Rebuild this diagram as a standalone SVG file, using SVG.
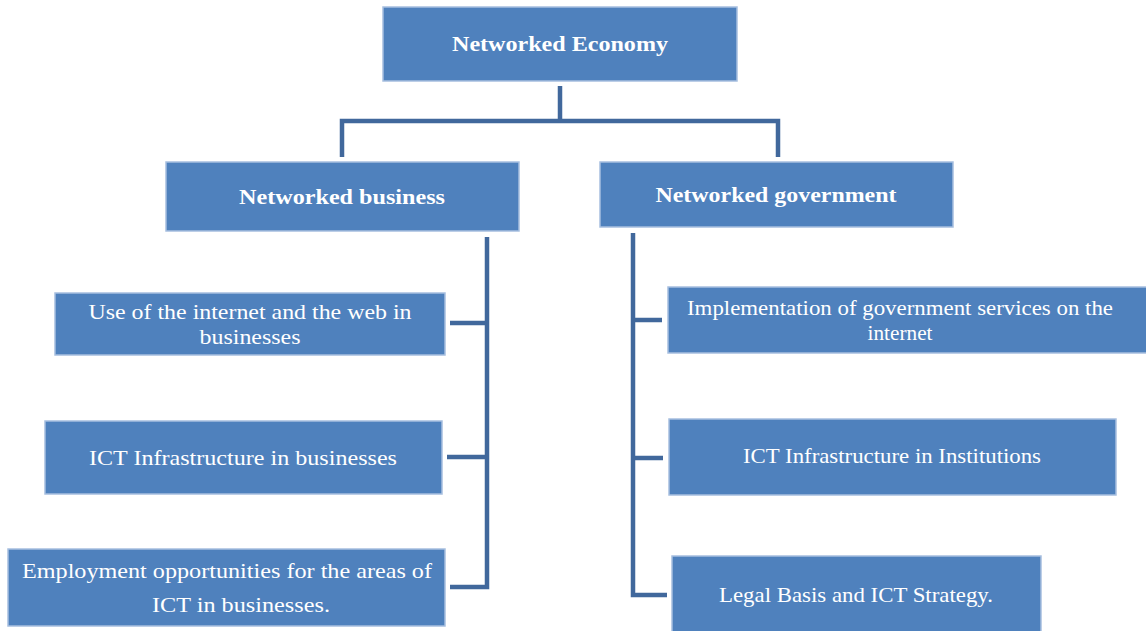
<svg xmlns="http://www.w3.org/2000/svg" width="1146" height="631" viewBox="0 0 1146 631">
<style>
.box{fill:#4f81bd;stroke:#a7bfdf;stroke-width:1.5}
.t{font-family:"Liberation Serif","Times New Roman",serif;font-size:22px;fill:#ffffff;text-anchor:middle}
.b{font-weight:bold}
.c{fill:none;stroke:#41689c;stroke-width:4.5;stroke-linecap:butt;stroke-linejoin:miter}
</style>
<rect width="1146" height="631" fill="#ffffff"/>
<g id="connectors">
<path class="c" d="M560 86V121M342 157V121H778V157"/>
<path class="c" d="M487 237V587H450M487 323H450M487 457H447"/>
<path class="c" d="M633 233V595H667M633 320H662M633 458H663"/>
</g>
<g id="n-economy">
<rect class="box" x="383" y="7" width="354" height="74"/>
<text class="t b" x="560" y="51" textLength="216" lengthAdjust="spacingAndGlyphs">Networked Economy</text>
</g>
<g id="n-business">
<rect class="box" x="166" y="162" width="353" height="69"/>
<text class="t b" x="342" y="204" textLength="206" lengthAdjust="spacingAndGlyphs">Networked business</text>
</g>
<g id="n-government">
<rect class="box" x="600" y="162" width="353" height="65"/>
<text class="t b" x="776" y="202" textLength="241" lengthAdjust="spacingAndGlyphs">Networked government</text>
</g>
<g id="n-b1">
<rect class="box" x="55" y="293" width="390" height="62"/>
<text class="t" x="250" y="319" textLength="323" lengthAdjust="spacingAndGlyphs">Use of the internet  and the web in</text>
<text class="t" x="250" y="344" textLength="101" lengthAdjust="spacingAndGlyphs">businesses</text>
</g>
<g id="n-b2">
<rect class="box" x="45" y="421" width="397" height="73"/>
<text class="t" x="243" y="465" textLength="308" lengthAdjust="spacingAndGlyphs">ICT Infrastructure  in  businesses</text>
</g>
<g id="n-b3">
<rect class="box" x="8" y="549" width="437" height="77"/>
<text class="t" x="227" y="578" textLength="410" lengthAdjust="spacingAndGlyphs">Employment  opportunities for the areas of</text>
<text class="t" x="241" y="612" textLength="178" lengthAdjust="spacingAndGlyphs">ICT in  businesses.</text>
</g>
<g id="n-g1">
<rect class="box" x="668" y="287" width="480" height="66"/>
<text class="t" x="900" y="315" textLength="426" lengthAdjust="spacingAndGlyphs">Implementation  of government  services on the</text>
<text class="t" x="900" y="340" textLength="65" lengthAdjust="spacingAndGlyphs">internet</text>
</g>
<g id="n-g2">
<rect class="box" x="669" y="419" width="447" height="76"/>
<text class="t" x="892" y="463" textLength="298" lengthAdjust="spacingAndGlyphs">ICT Infrastructure  in  Institutions</text>
</g>
<g id="n-g3">
<rect class="box" x="672" y="556" width="369" height="78"/>
<text class="t" x="856" y="602" textLength="274" lengthAdjust="spacingAndGlyphs">Legal  Basis  and ICT Strategy.</text>
</g>
</svg>
